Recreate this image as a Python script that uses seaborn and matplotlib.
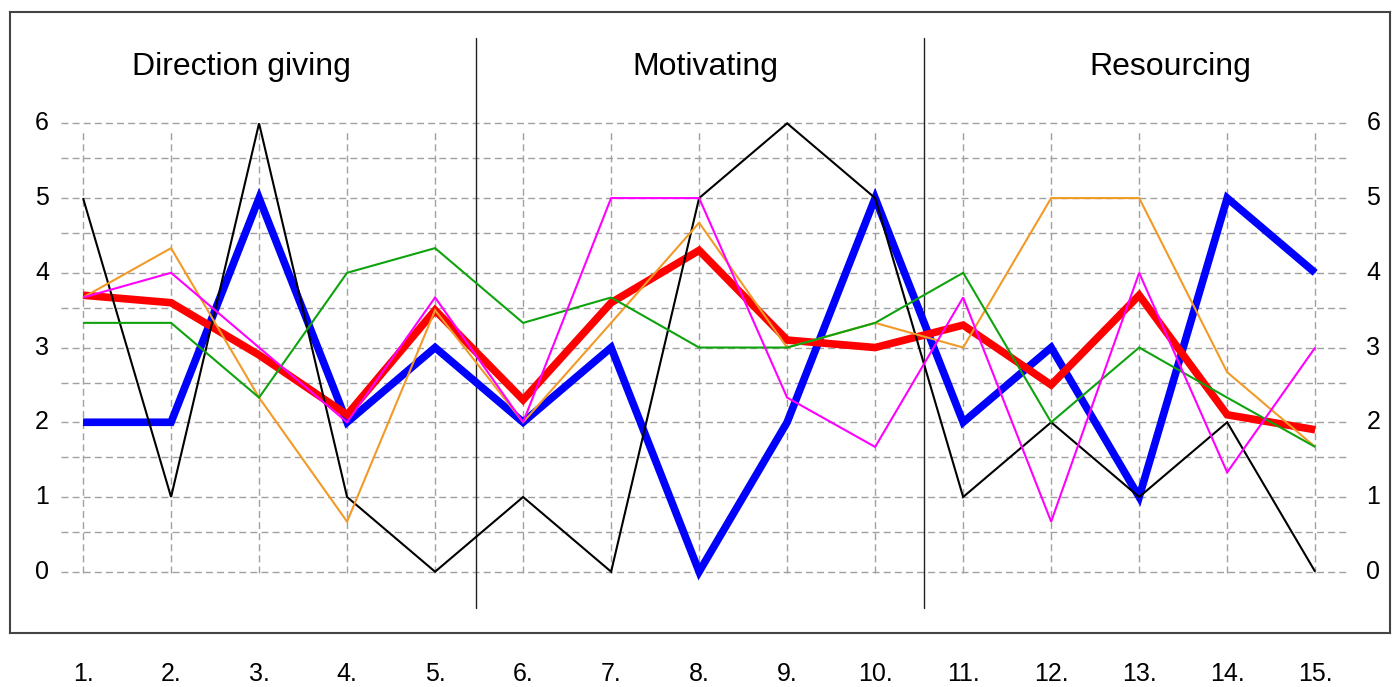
import matplotlib
matplotlib.use('Agg')
import matplotlib.pyplot as plt
import seaborn as sns
import numpy as np

# Dados das series (15 itens)
itens = list(range(1, 16))
rotulos_x = [f'{i}.' for i in itens]
secoes = ['Direction giving', 'Motivating', 'Resourcing']
pos_secoes = [2.80, 8.07, 13.35]
separadores = [5.47, 10.56]

serie_azul = [2, 2, 5, 2, 3, 2, 3, 0, 2, 5, 2, 3, 1, 5, 4]
serie_vermelha = [3.7, 3.6, 2.9, 2.1, 3.5, 2.3, 3.6, 4.3, 3.1, 3.0, 3.3, 2.5, 3.7, 2.1, 1.9]
serie_preta = [5, 1, 6, 1, 0, 1, 0, 5, 6, 5, 1, 2, 1, 2, 0]
serie_laranja = [3.67, 4.33, 2.33, 0.67, 3.5, 2.0, 3.33, 4.67, 3.0, 3.33, 3.0, 5, 5, 2.67, 1.67]
serie_verde = [3.33, 3.33, 2.33, 4, 4.33, 3.33, 3.67, 3, 3, 3.33, 4, 2, 3, 2.33, 1.67]
serie_magenta = [3.67, 4, 3.0, 2, 3.67, 2, 5, 5, 2.33, 1.67, 3.67, 0.67, 4, 1.33, 3]

sns.set_style('white')
plt.rcParams['font.family'] = ['Liberation Sans', 'DejaVu Sans']
plt.rcParams['text.color'] = 'black'
plt.rcParams['xtick.color'] = 'black'

fig = plt.figure(figsize=(13.93, 6.87), dpi=100)
ax = fig.add_axes([10 / 1393, 54 / 687, 1380 / 1393, 621 / 687])
ax.set_xlim(0.17, 15.85)
ax.set_ylim(-0.82, 7.49)

# grade tracejada
for y in range(7):
    ax.plot([0.75, 15.36], [y, y], color='#a0a0a0', lw=1, ls=(0, (5, 3)), zorder=1)
for y in np.arange(0.53, 6, 1):
    ax.plot([0.75, 15.36], [y, y], color='#a0a0a0', lw=1, ls=(0, (5, 3)), zorder=1)
for x in itens:
    ax.plot([x, x], [-0.02, 5.91], color='#a0a0a0', lw=1, ls=(0, (5, 3)), zorder=1)

# separadores das secoes
for x in separadores:
    ax.plot([x, x], [-0.49, 7.14], color='#222222', lw=1, zorder=2)

# linhas grossas primeiro, finas por cima
series = [
    (serie_azul, '#0000ff', 5.5),
    (serie_vermelha, '#ff0000', 5.5),
    (serie_preta, '#000000', 1.5),
    (serie_laranja, '#f29a27', 1.5),
    (serie_verde, '#0ea30e', 1.5),
    (serie_magenta, '#ff00ff', 1.5),
]
for i, (valores, cor, lw) in enumerate(series):
    sns.lineplot(x=itens, y=valores, color=cor, linewidth=lw, ax=ax, zorder=3 + i,
                 solid_joinstyle='miter', solid_capstyle='butt')

# titulos das secoes
for nome, xp in zip(secoes, pos_secoes):
    ax.text(xp, 6.75, nome, ha='center', va='center', fontsize=23)

# rotulos do eixo y nos dois lados
for y in range(7):
    ax.text(0.534, y, str(y), ha='center', va='center', fontsize=18)
    ax.text(15.66, y, str(y), ha='center', va='center', fontsize=18)

ax.set_xticks(itens)
ax.set_xticklabels(rotulos_x, fontsize=18)
ax.tick_params(axis='x', length=0, pad=21)
ax.set_yticks([])
ax.set_xlabel('')
ax.set_ylabel('')
for s in ax.spines.values():
    s.set_color('#444444')
    s.set_linewidth(1.5)

fig.savefig('out.png', dpi=100)
